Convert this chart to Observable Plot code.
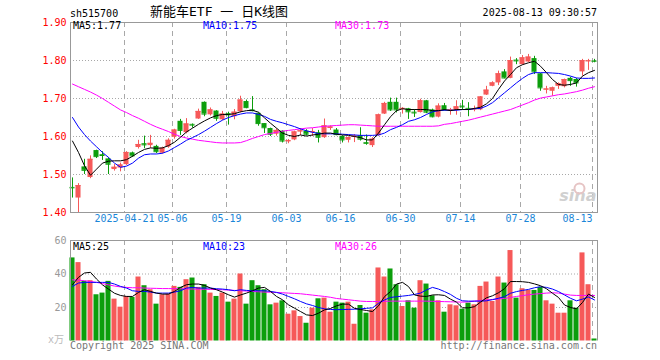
<!DOCTYPE html>
<html><head><meta charset="utf-8">
<script src="https://cdn.jsdelivr.net/npm/d3@7"></script>
<script src="https://cdn.jsdelivr.net/npm/@observablehq/plot@0.6"></script>
<style>
body{margin:0;background:#fff;}
#wrap{position:relative;width:660px;height:360px;overflow:hidden;font-family:"DejaVu Sans Mono",monospace;}
.t{position:absolute;font-size:10px;line-height:10px;white-space:pre;}
.chart{position:absolute;left:0;}
</style></head><body>
<div id="wrap">
  <div class="t" id="code" style="left:70px;top:9px;color:#000"></div>
  <div class="t" id="title" style="left:150px;top:5px;font-size:13px;line-height:13px;font-family:'DejaVu Sans Mono','Noto Sans CJK SC',monospace;color:#000"></div>
  <div class="t" id="stamp" style="right:63px;top:8px;color:#000"></div>
  <div class="chart" id="price" style="top:0"></div>
  <div class="chart" id="vol" style="top:232px"></div>
  <div class="t pm" style="left:73px;top:21px;color:#000"></div>
  <div class="t pm" style="left:203px;top:21px;color:#0000ff"></div>
  <div class="t pm" style="left:335px;top:21px;color:#ff00ff"></div>
  <div class="t vm" style="left:73px;top:242px;color:#000"></div>
  <div class="t vm" style="left:203px;top:242px;color:#0000ff"></div>
  <div class="t vm" style="left:335px;top:242px;color:#ff00ff"></div>
  <div class="t" id="unit" style="left:48px;top:335px;color:#bbb;font-family:'DejaVu Sans Mono','Noto Sans CJK SC',monospace"></div>
  <div class="t" id="copy" style="left:70px;top:341px;color:#777"></div>
  <div class="t" id="url" style="right:63px;top:341px;color:#777"></div>
</div>
<script>
// ---- texts ----
const symbol = "sh515700";
const chartTitle = "新能车ETF 一 日K线图";
const timeStamp = "2025-08-13 09:30:57";
const copyright = "Copyright 2025 SINA.COM";
const siteUrl = "http://finance.sina.com.cn";
const volUnit = "x万";
const maNames = ["MA5", "MA10", "MA30"];
const priceMaNow = ["1.77", "1.75", "1.73"];
const volMaNow = ["25", "23", "26"];

// ---- axis ticks ----
const priceTicks = [1.40, 1.50, 1.60, 1.70, 1.80, 1.90];
const priceGrid = [1.50, 1.60, 1.70, 1.80];
const volTicks = [20, 40, 60];
const volGrid = [20, 40];
const tickIdx = [9, 17, 26, 36, 45, 55, 65, 75, 87];
const tickLabels = ["2025-04-21", "05-06", "05-19", "06-03", "06-16", "06-30", "07-14", "07-28", "08-13"];

// ---- daily candles (2025-04-08 .. 2025-08-13) ----
const open = [1.466,1.438,1.520,1.492,1.563,1.552,1.541,1.513,1.517,1.526,
1.557,1.571,1.581,1.576,1.574,1.556,1.572,1.598,1.640,1.610,
1.632,1.646,1.690,1.657,1.667,1.644,1.660,1.652,1.665,1.692,
1.670,1.661,1.634,1.621,1.606,1.614,1.586,1.591,1.612,1.614,
1.610,1.610,1.597,1.621,1.617,1.600,1.590,1.598,1.602,1.584,
1.576,1.602,1.659,1.690,1.690,1.671,1.673,1.664,1.663,1.694,
1.670,1.651,1.681,1.668,1.669,1.680,1.674,1.670,1.670,1.709,
1.732,1.741,1.770,1.753,1.801,1.789,1.796,1.805,1.765,1.722,
1.719,1.732,1.731,1.753,1.750,1.770,1.797,1.799];
const high = [1.491,1.476,1.540,1.549,1.564,1.560,1.544,1.526,1.530,1.560,
1.559,1.590,1.601,1.603,1.577,1.572,1.594,1.619,1.645,1.647,
1.633,1.672,1.691,1.675,1.668,1.666,1.664,1.671,1.706,1.696,
1.705,1.662,1.634,1.622,1.620,1.615,1.592,1.614,1.621,1.618,
1.621,1.616,1.646,1.628,1.621,1.602,1.599,1.605,1.623,1.604,
1.597,1.659,1.690,1.701,1.701,1.676,1.674,1.671,1.698,1.695,
1.672,1.686,1.687,1.674,1.694,1.695,1.689,1.680,1.705,1.732,
1.744,1.772,1.776,1.809,1.805,1.813,1.816,1.811,1.766,1.732,
1.730,1.741,1.751,1.756,1.753,1.803,1.803,1.803];
const low = [1.438,1.400,1.500,1.489,1.542,1.537,1.500,1.509,1.507,1.524,
1.545,1.567,1.568,1.569,1.555,1.554,1.569,1.593,1.603,1.607,
1.622,1.645,1.652,1.654,1.640,1.642,1.630,1.644,1.662,1.673,
1.665,1.627,1.608,1.600,1.601,1.583,1.581,1.589,1.602,1.601,
1.600,1.583,1.595,1.616,1.602,1.583,1.583,1.584,1.588,1.577,
1.571,1.601,1.658,1.666,1.662,1.659,1.645,1.650,1.662,1.660,
1.649,1.649,1.667,1.656,1.656,1.669,1.652,1.665,1.668,1.708,
1.731,1.734,1.752,1.752,1.789,1.788,1.795,1.763,1.719,1.712,
1.706,1.724,1.728,1.732,1.730,1.759,1.774,1.794];
const close = [1.465,1.471,1.511,1.540,1.547,1.550,1.527,1.519,1.525,1.558,
1.549,1.579,1.578,1.582,1.560,1.569,1.590,1.617,1.616,1.633,
1.630,1.666,1.659,1.670,1.648,1.659,1.657,1.664,1.696,1.676,
1.668,1.634,1.623,1.606,1.616,1.588,1.589,1.612,1.615,1.606,
1.613,1.598,1.628,1.625,1.605,1.591,1.597,1.601,1.593,1.582,
1.593,1.657,1.687,1.670,1.670,1.674,1.665,1.662,1.694,1.664,
1.652,1.680,1.670,1.670,1.678,1.678,1.672,1.673,1.704,1.722,
1.741,1.765,1.754,1.800,1.799,1.807,1.809,1.770,1.728,1.725,
1.728,1.739,1.750,1.747,1.741,1.800,1.799,1.798];

// ---- price moving averages ----
const ma5 = [1.588,1.558,1.523,1.498,1.514,1.530,1.535,1.536,1.536,1.539,
1.548,1.558,1.566,1.570,1.569,1.570,1.576,1.585,1.598,1.612,
1.622,1.632,1.641,1.649,1.655,1.658,1.658,1.660,1.665,1.668,
1.669,1.664,1.649,1.635,1.622,1.609,1.603,1.600,1.604,1.601,
1.604,1.606,1.609,1.609,1.606,1.604,1.603,1.600,1.597,1.591,
1.591,1.609,1.631,1.652,1.668,1.673,1.671,1.671,1.671,1.671,
1.668,1.668,1.671,1.668,1.671,1.671,1.671,1.674,1.677,1.686,
1.700,1.724,1.746,1.763,1.781,1.789,1.794,1.798,1.785,1.768,
1.750,1.737,1.735,1.737,1.741,1.759,1.768,1.774];
const ma10 = [1.650,1.625,1.605,1.588,1.573,1.558,1.545,1.530,1.519,1.522,
1.530,1.543,1.552,1.554,1.554,1.556,1.562,1.571,1.580,1.590,
1.597,1.605,1.614,1.624,1.634,1.643,1.650,1.655,1.659,1.662,
1.662,1.658,1.653,1.645,1.640,1.636,1.631,1.626,1.620,1.615,
1.611,1.608,1.607,1.607,1.607,1.606,1.605,1.604,1.603,1.603,
1.603,1.604,1.609,1.618,1.624,1.631,1.640,1.644,1.650,1.658,
1.665,1.668,1.669,1.669,1.669,1.671,1.671,1.673,1.674,1.680,
1.689,1.702,1.715,1.728,1.741,1.753,1.763,1.768,1.768,1.768,
1.767,1.766,1.763,1.759,1.754,1.753,1.753,1.754];
const ma30 = [1.738,1.731,1.724,1.717,1.709,1.700,1.690,1.680,1.670,1.663,
1.655,1.648,1.640,1.632,1.625,1.619,1.613,1.606,1.600,1.596,
1.593,1.590,1.588,1.586,1.584,1.583,1.583,1.583,1.584,1.589,
1.595,1.600,1.605,1.608,1.611,1.614,1.616,1.618,1.620,1.622,
1.623,1.625,1.627,1.628,1.629,1.630,1.631,1.631,1.630,1.629,
1.628,1.627,1.627,1.627,1.627,1.627,1.627,1.627,1.627,1.627,
1.627,1.628,1.632,1.634,1.637,1.640,1.643,1.647,1.651,1.655,
1.659,1.663,1.667,1.671,1.677,1.683,1.689,1.696,1.701,1.704,
1.707,1.710,1.712,1.715,1.718,1.722,1.727,1.731];

// ---- volume (万) and its moving averages ----
const vol = [49.6,46.8,35.6,36.0,27.6,28.6,35.6,25.0,20.2,26.6,
26.0,38.2,33.0,30.6,22.0,27.6,28.0,32.6,32.0,36.6,
37.6,32.0,33.6,28.6,26.6,28.6,23.2,25.0,40.0,22.0,
36.0,33.0,30.6,21.6,22.6,24.0,16.0,18.0,14.6,10.6,
19.6,25.2,25.6,17.2,23.2,22.6,23.2,10.0,21.2,16.6,
18.6,43.6,38.2,43.0,33.6,20.6,24.0,19.6,36.0,34.0,
27.0,24.0,17.2,21.6,21.0,19.0,22.6,21.6,32.6,35.2,
23.6,38.2,34.6,54.0,25.6,31.2,30.2,30.2,32.0,24.0,
22.0,16.6,16.6,24.0,19.6,52.6,33.6,1.2];
const vma5 = [33.6,38.0,40.6,41.0,37.0,33.5,31.0,28.5,27.2,26.6,
26.6,29.0,30.6,29.6,28.6,28.0,28.0,29.6,32.0,33.6,
34.0,34.0,33.2,31.6,30.6,29.2,27.6,26.2,27.5,28.6,
30.0,31.6,32.0,29.6,26.6,24.6,21.6,19.6,17.6,15.6,
15.2,16.6,18.6,19.4,21.0,22.0,22.0,19.5,18.8,18.2,
17.6,21.0,26.5,29.5,34.0,35.0,32.5,27.5,26.8,26.6,
27.5,27.6,27.2,25.0,23.2,19.8,19.8,20.5,23.2,25.8,
27.0,28.8,31.2,35.5,35.5,35.4,35.0,34.1,33.0,31.2,
28.5,26.0,21.5,20.0,19.2,23.0,28.0,26.0];
const vma10 = [32.6,34.6,35.0,35.0,35.0,35.0,35.0,34.0,32.6,31.6,
30.0,29.6,29.6,29.2,28.6,28.6,28.6,29.2,30.0,31.6,
32.0,31.6,31.6,31.6,31.2,31.0,30.6,30.0,30.6,30.2,
30.0,30.0,30.0,29.6,29.0,28.0,26.6,25.2,23.6,22.2,
21.2,20.0,19.2,18.8,18.7,18.8,18.9,19.0,19.2,19.5,
19.8,22.5,24.5,26.0,26.4,26.8,27.2,27.8,28.6,30.5,
32.0,31.0,29.5,27.8,25.5,24.0,23.8,23.8,23.8,24.0,
24.7,25.5,26.5,28.5,29.5,30.2,30.8,31.8,32.4,32.0,
31.0,29.5,27.5,25.5,24.0,25.0,26.3,24.5];
const vma30 = [36.5,36.3,36.0,35.5,35.0,34.3,33.5,32.8,32.3,32.0,
31.8,31.8,31.6,31.5,31.4,31.3,31.3,31.2,31.2,31.1,
31.0,31.0,30.9,30.8,30.7,30.6,30.4,30.2,30.0,29.8,
29.6,29.4,29.2,29.1,29.0,28.8,28.6,28.4,28.2,27.8,
27.4,27.0,26.6,26.1,25.4,25.0,24.6,24.2,23.8,23.6,
23.6,23.6,23.7,23.8,23.8,23.8,23.8,23.8,23.8,23.8,
23.7,23.6,23.5,23.4,23.3,23.2,23.4,23.8,24.2,24.5,
24.8,25.1,25.4,26.0,26.6,27.1,27.6,28.0,28.3,28.6,
28.8,28.6,28.0,27.4,27.2,27.2,27.2,27.2];

// ---- build ----
const mono = "DejaVu Sans Mono, monospace";
const UP = "#f65959", DOWN = "#0c9e0c";
const GRID = "#a8a8a8", FRAME = "#999";
const candles = open.map((o, k) => ({i: k, open: o, high: high[k], low: low[k], close: close[k], vol: vol[k]}));
const col = d => d.close >= d.open ? UP : DOWN;
const ticks = tickIdx.map((k, j) => ({i: k, label: tickLabels[j]}));
const xDomain = [-1 / 3, candles.length - 0.5];
const half = 0.42;
const lineOf = (arr, color) => Plot.line(arr, {x: (d, k) => k, y: d => d, stroke: color, strokeWidth: 1});

document.getElementById("code").textContent = symbol;
document.getElementById("title").textContent = chartTitle;
document.getElementById("stamp").textContent = timeStamp;
document.getElementById("copy").textContent = copyright;
document.getElementById("url").textContent = siteUrl;
document.getElementById("unit").textContent = volUnit;
document.querySelectorAll(".pm").forEach((el, j) => el.textContent = maNames[j] + ":" + priceMaNow[j]);
document.querySelectorAll(".vm").forEach((el, j) => el.textContent = maNames[j] + ":" + volMaNow[j]);

const price = Plot.plot({
  width: 660, height: 232,
  marginLeft: 70, marginRight: 63, marginTop: 22, marginBottom: 20,
  x: {domain: xDomain, axis: null},
  y: {domain: [priceTicks[0], priceTicks[priceTicks.length - 1]], axis: null},
  color: {type: "identity"},
  marks: [
    Plot.ruleY(priceGrid, {stroke: GRID, strokeDasharray: "1,2"}),
    Plot.ruleX(ticks, {x: "i", dx: -2, stroke: GRID, strokeDasharray: "5,4"}),
    Plot.text(["sina"], {frameAnchor: "bottom-right", textAnchor: "end", dx: -1, dy: -12, fontSize: 16, fontWeight: "bold", fontStyle: "italic", fill: "#d0d0d0", fontFamily: "DejaVu Sans, sans-serif"}),
    Plot.dot(["logo"], {frameAnchor: "bottom-right", dx: -18, dy: -24, r: 5, stroke: "#e6c4c4", strokeWidth: 2, fill: "none"}),
    Plot.ruleX(candles, {x: "i", y1: "low", y2: "high", stroke: col}),
    Plot.rect(candles, {x1: d => d.i - half, x2: d => d.i + half, y1: "open", y2: "close", fill: col}),
    Plot.ruleY(candles, {y: "close", x1: d => d.i - half, x2: d => d.i + half, stroke: col}),
    lineOf(ma30, "#ff00ff"),
    lineOf(ma10, "#0000ff"),
    lineOf(ma5, "#000000"),
    Plot.frame({stroke: FRAME}),
    Plot.text(priceTicks, {y: d => d, text: d => d.toFixed(2), frameAnchor: "left", textAnchor: "end", dx: -4, fill: "#ff0000", fontSize: 10, fontFamily: mono}),
    Plot.text(ticks.slice(0, -1), {x: "i", text: "label", frameAnchor: "bottom", dy: 9, dx: -2, fill: "#1a86d8", fontSize: 10, fontFamily: mono}),
    Plot.text(ticks.slice(-1), {x: "i", text: "label", frameAnchor: "bottom", textAnchor: "end", dy: 9, dx: -2, fill: "#1a86d8", fontSize: 10, fontFamily: mono})
  ]
});
document.getElementById("price").append(price);

const volume = Plot.plot({
  width: 660, height: 128,
  marginLeft: 70, marginRight: 63, marginTop: 8, marginBottom: 19.5,
  x: {domain: xDomain, axis: null},
  y: {domain: [0, volTicks[volTicks.length - 1]], axis: null},
  color: {type: "identity"},
  marks: [
    Plot.ruleY(volGrid, {stroke: GRID, strokeDasharray: "1,2"}),
    Plot.ruleX(ticks, {x: "i", dx: -2, stroke: GRID, strokeDasharray: "5,4"}),
    Plot.rectY(candles, {x1: d => d.i - half, x2: d => d.i + half, y: "vol", fill: col}),
    lineOf(vma30, "#ff00ff"),
    lineOf(vma10, "#0000ff"),
    lineOf(vma5, "#000000"),
    Plot.ruleY(volTicks.slice(-1), {stroke: FRAME}),
    Plot.ruleX(xDomain, {stroke: FRAME}),
    Plot.text(volTicks, {y: d => d, text: d => String(d), frameAnchor: "left", textAnchor: "end", dx: -4, fill: "#999", fontSize: 10, fontFamily: mono})
  ]
});
document.getElementById("vol").append(volume);
</script>
</body></html>
